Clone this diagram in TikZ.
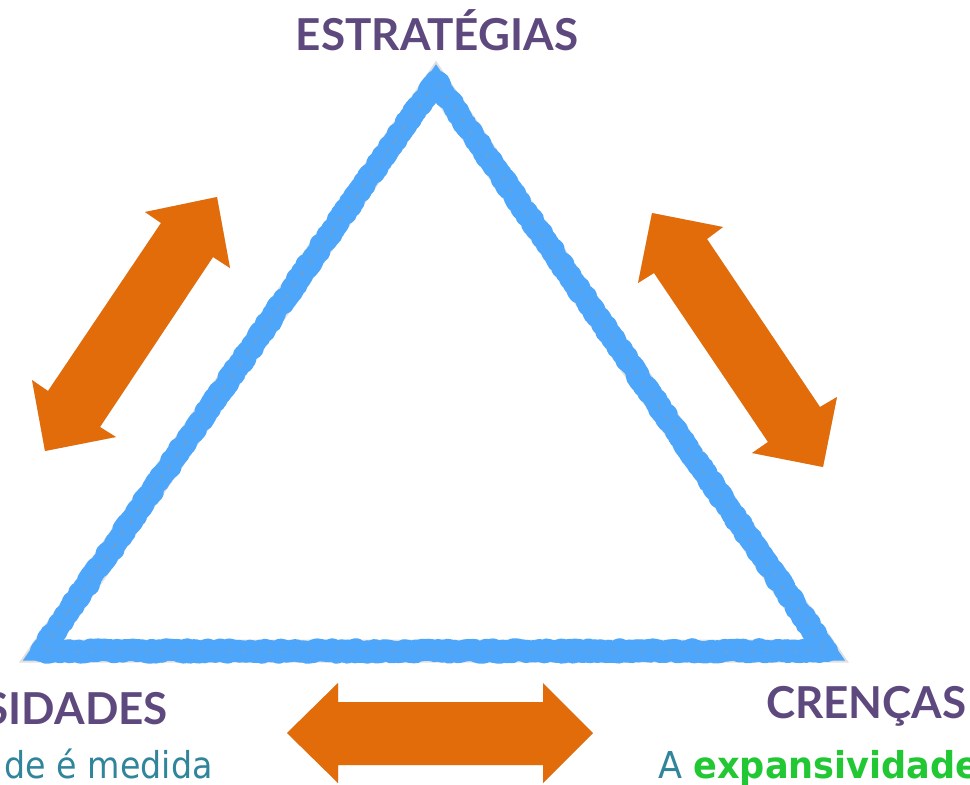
\documentclass[tikz,border=0pt]{standalone}
\usepackage{fontspec}
\setmainfont{Lato}
\newfontfamily\bodyfont{DejaVu Sans}
\usetikzlibrary{decorations.pathmorphing,calc}
\definecolor{headpurple}{RGB}{94,73,126}
\definecolor{arroworange}{RGB}{227,108,10}
\definecolor{triblue}{RGB}{78,166,250}
\definecolor{tealtext}{RGB}{49,133,155}
\definecolor{greentext}{RGB}{34,200,52}
\tikzset{
  heading/.style={text=headpurple, font=\fontsize{44}{48}\selectfont\bfseries, inner sep=0pt},
  bodytext/.style={inner sep=0pt, font=\bodyfont\fontsize{37}{40}\selectfont},
  blockarrow/.style={fill=arroworange},
  blockshadow/.style={fill=black, opacity=0.18},
  triline/.style={draw=triblue, line width=22pt, line join=round, line cap=round,
     decorate, decoration={random steps, segment length=2.5pt, amplitude=1.8pt}},
}
\begin{document}
\begin{tikzpicture}[x=1pt, y=-1pt]
\pgfmathsetseed{11}
\useasboundingbox (0,0) rectangle (970,785);
% triangle vertices
\coordinate (T) at (436,81);
\coordinate (L) at (41,651);
\coordinate (R) at (827,651);
% triangle shadow
\draw[black, opacity=0.12, line width=23pt, line join=miter, shift={(1,3)}] (T) -- (L) -- (R) -- cycle;
% triangle rough stroke
\draw[triline] (T) -- (L) -- (R) -- cycle;
\draw[triblue, line width=19pt, line join=miter] (T) -- (L) -- (R) -- cycle;
\draw[black!40, opacity=0.55, line width=1.2pt, dash pattern=on 4pt off 11pt, line join=round,
      decorate, decoration={random steps, segment length=2pt, amplitude=1pt}]
      ($(T)!0.02!(L)$) -- (L) -- (R) -- (T);
\draw[black!40, opacity=0.45, line width=1pt, dash pattern=on 3pt off 14pt, line join=round,
      decorate, decoration={random steps, segment length=2pt, amplitude=1pt}, shift={(3,2)}]
      ($(T)!0.04!(L)$) -- ($(L)!0.02!(T)$) ;
% left arrow
\coordinate (la1) at (217,197); \coordinate (la2) at (230,268); \coordinate (la3) at (213,257);
\coordinate (la4) at (100,427); \coordinate (la5) at (116,437); \coordinate (la6) at (45,451);
\coordinate (la7) at (32,380);  \coordinate (la8) at (48,391);  \coordinate (la9) at (161,223);
\coordinate (la10) at (145,212);
\fill[blockshadow, shift={(2,3)}] (la1)--(la2)--(la3)--(la4)--(la5)--(la6)--(la7)--(la8)--(la9)--(la10)--cycle;
\fill[blockarrow] (la1)--(la2)--(la3)--(la4)--(la5)--(la6)--(la7)--(la8)--(la9)--(la10)--cycle;
% right arrow
\coordinate (ra1) at (652,213); \coordinate (ra2) at (723,227); \coordinate (ra3) at (707,239);
\coordinate (ra4) at (820,407); \coordinate (ra5) at (837,397); \coordinate (ra6) at (823,467);
\coordinate (ra7) at (752,453); \coordinate (ra8) at (768,442); \coordinate (ra9) at (654,273);
\coordinate (ra10) at (638,283);
\fill[blockshadow, shift={(2,3)}] (ra1)--(ra2)--(ra3)--(ra4)--(ra5)--(ra6)--(ra7)--(ra8)--(ra9)--(ra10)--cycle;
\fill[blockarrow] (ra1)--(ra2)--(ra3)--(ra4)--(ra5)--(ra6)--(ra7)--(ra8)--(ra9)--(ra10)--cycle;
% bottom arrow
\coordinate (ba1) at (287,733); \coordinate (ba2) at (338,683); \coordinate (ba3) at (338,702);
\coordinate (ba4) at (543,702); \coordinate (ba5) at (543,683); \coordinate (ba6) at (593,733);
\coordinate (ba7) at (543,783); \coordinate (ba8) at (543,765); \coordinate (ba9) at (338,765);
\coordinate (ba10) at (338,783);
\fill[blockshadow, shift={(2,3)}] (ba1)--(ba2)--(ba3)--(ba4)--(ba5)--(ba6)--(ba7)--(ba8)--(ba9)--(ba10)--cycle;
\fill[blockarrow] (ba1)--(ba2)--(ba3)--(ba4)--(ba5)--(ba6)--(ba7)--(ba8)--(ba9)--(ba10)--cycle;
% labels
\node[heading, anchor=base] (estr) at (437,50) {ESTRATÉGIAS};
\node[heading, anchor=base east] (nec) at (168,724) {SIDADES};
\node[heading, anchor=base west] (cren) at (766,718) {CRENÇAS};
\node[bodytext, anchor=base east, text=tealtext] (med) at (213,778) {\scalebox{0.9}[1]{de é medida}};
\node[bodytext, anchor=base west] (exp) at (658,778) {\scalebox{0.95}[1]{\textcolor{tealtext}{A} \textcolor{greentext}{\bfseries expansividade}}};
\end{tikzpicture}
\end{document}
